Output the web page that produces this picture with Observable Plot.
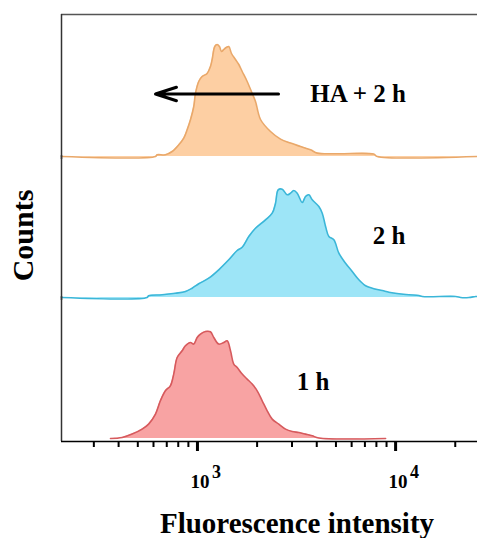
<!DOCTYPE html>
<html><head><meta charset="utf-8">
<script src="https://cdn.jsdelivr.net/npm/d3@7"></script>
<script src="https://cdn.jsdelivr.net/npm/@observablehq/plot@0.6"></script>
<style>body{margin:0;background:#fff}</style>
</head><body><div id="chart"></div>
<script>
const seriesNames = ["HA + 2 h", "2 h", "1 h"];
const fillColors = {"HA + 2 h": "#FDCFA3", "2 h": "#9DE5F7", "1 h": "#F8A3A3"};
const strokeColors = {"HA + 2 h": "#E9A86A", "2 h": "#3BB6D8", "1 h": "#D65A5D"};

const haIntensity = [206,614,626,689,745,805,853,887,922,958,977,1015,1056,1119,1163,1186,1223,1257,1291,1322,1358,1396,1439,1485,1556,1617,1682,1782,1889,1963,2081,2337,2626,2949,3313,3722,4023,5078,7743,8083,25900];
const haCounts    = [0,0,1.7,1.7,5,11.7,18.4,26.7,36.7,50,63,75,80,83,90,97,110,112,110,105,107,109,110,103,97,92,85,75,63,55,37,25,17.4,13.4,10,6.7,3.4,2.7,2.4,0,0];

const h2Intensity = [206,557,567,663,774,870,940,1015,1140,1281,1439,1587,1682,1816,1963,2205,2384,2477,2556,2678,2838,2949,3064,3188,3379,3512,3649,3796,4099,4264,4432,4605,4880,5172,5590,6043,6525,7055,7626,8567,9252,10392,11672,13115,13641,20090,21300,23460,25350,25900];
const h2Counts    = [0,0,1.7,2.7,4.3,6,9.3,13.7,19.3,27.7,37.7,47,50.3,61,69.3,77.7,84.3,94.3,107.7,108.3,102.7,104.3,107,104.3,95,101,102.7,97.7,91,84.3,71,61,57.7,44.3,34.3,26,17.7,11.7,9.3,7,5.3,3.7,2.7,2,1,1,0,0,1,1];

const h1Intensity = [364,417,468,526,567,614,650,689,730,759,790,837,870,922,958,997,1036,1098,1163,1209,1281,1358,1413,1468,1525,1587,1682,1782,1889,2002,2122,2249,2384,2574,2783,3008,3249,3512,3796,4099,8903];
const h1Counts    = [0,1,4.4,9.4,14.4,24.4,37.7,47.7,52.7,64.4,81,87.7,92.7,96,94.4,101,104.4,107,106.7,101,94.4,96,97.7,87.7,74.4,71,64.4,59.4,54.4,47.7,37.7,27.7,19.4,14.4,9.4,7,6,4.4,2.7,0.5,0];

const majorTicks = [1000, 10000];
const majorExponents = ["3", "4"];
const minorTicks = [300,400,500,600,700,800,900,2000,3000,4000,5000,6000,7000,8000,9000,20000];
const arrowShift = [{series: "HA + 2 h", from: 2565, to: 614}];

const rows = [];
function addSeries(name, xs, ys) { xs.forEach((x, i) => rows.push({series: name, intensity: x, count: ys[i]})); }
addSeries("HA + 2 h", haIntensity, haCounts);
addSeries("2 h", h2Intensity, h2Counts);
addSeries("1 h", h1Intensity, h1Counts);

const labelX = {"HA + 2 h": 6467, "2 h": 9262, "1 h": 3828};
const labelY = {"HA + 2 h": 63, "2 h": 62, "1 h": 56.5};

const serif = "'Liberation Serif', 'Times New Roman', serif";

const chart = Plot.plot({
  width: 477, height: 538,
  marginLeft: 61, marginRight: 0, marginTop: 18, marginBottom: 97,
  style: {fontFamily: serif, background: "white", color: "black"},
  x: {type: "log", domain: [206, 25900], label: null},
  y: {domain: [-3, 138], axis: null},
  fy: {domain: seriesNames, padding: 0, axis: null},
  color: {type: "identity"},
  marks: [
    Plot.areaY(rows, {x: "intensity", y: "count", fy: "series", fill: d => fillColors[d.series], z: "series", curve: "catmull-rom"}),
    Plot.lineY(rows, {x: "intensity", y: "count", fy: "series", stroke: d => strokeColors[d.series], z: "series", strokeWidth: 1.6, curve: "catmull-rom"}),
    Plot.ruleY([{series: "HA + 2 h"}], {y: () => 142, fy: "series", stroke: "#555", strokeWidth: 1.5}),
    Plot.ruleX(seriesNames.map(s => ({series: s})), {x: () => 206, y1: () => -3, y2: () => 142, fy: "series", stroke: "#333", strokeWidth: 1.5}),
    Plot.ruleY([{series: "1 h"}], {y: () => -3, fy: "series", stroke: "black", strokeWidth: 1.6}),
    Plot.axisX(minorTicks, {tickSize: 6, strokeWidth: 2, tickFormat: () => "", label: null}),
    Plot.axisX(majorTicks, {tickSize: 10, strokeWidth: 3, tickFormat: () => "", label: null}),
    Plot.text(majorTicks, {x: d => d, fy: () => "1 h", text: () => "10", frameAnchor: "bottom", lineAnchor: "middle", dx: 2.5, dy: 40, fontSize: 19, fontWeight: "bold"}),
    Plot.text(majorTicks, {x: d => d, fy: () => "1 h", text: (d, i) => majorExponents[i], frameAnchor: "bottom", lineAnchor: "middle", dx: 19, dy: 31, fontSize: 18, fontWeight: "bold"}),
    Plot.text(["Fluorescence intensity"], {fy: () => "1 h", text: d => d, frameAnchor: "bottom", lineAnchor: "middle", dx: 27.5, dy: 82, fontSize: 29, fontWeight: "bold"}),
    Plot.text(["Counts"], {fy: () => "2 h", text: d => d, frameAnchor: "left", lineAnchor: "middle", textAnchor: "middle", rotate: -90, dx: -38, dy: 5.5, fontSize: 30, fontWeight: "bold"}),
    Plot.arrow(arrowShift, {x1: "from", x2: "to", y1: () => 62.5, y2: () => 62.5, fy: "series", stroke: "black", strokeWidth: 3, headLength: 11, headAngle: 36}),
    Plot.text(seriesNames, {fy: d => d, text: d => d, x: d => labelX[d], y: d => labelY[d], fontSize: 25, fontWeight: "bold"})
  ]
});
document.getElementById("chart").appendChild(chart);
</script>
</body></html>
